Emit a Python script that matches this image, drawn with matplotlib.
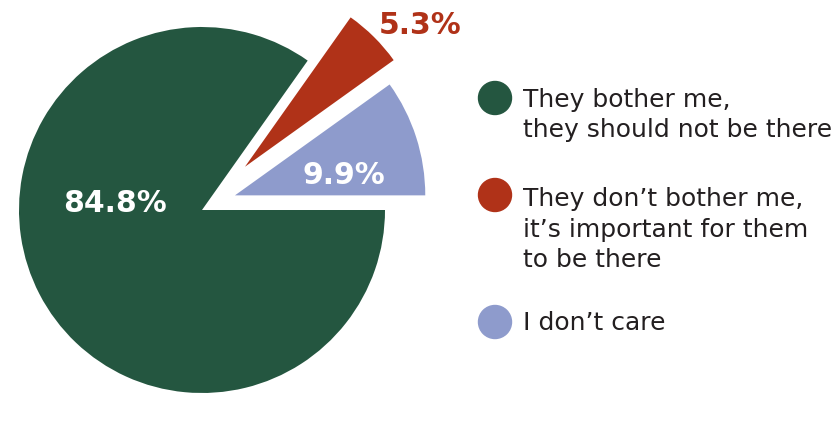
import matplotlib
matplotlib.use("Agg")
import matplotlib.pyplot as plt
from matplotlib.patches import Circle

# Survey answers, in legend order
labels = [
    ["They bother me,", "they should not be there"],
    ["They don\u2019t bother me,", "it\u2019s important for them", "to be there"],
    ["I don\u2019t care"],
]
shares = [84.8, 5.3, 9.9]
colors = ["#245640", "#B03218", "#8E9BCC"]
explode = [0.0, 0.333, 0.19]

W, H = 839, 430
fig = plt.figure(figsize=(W / 100, H / 100), dpi=100, facecolor="white")

# pie axes: left part of the figure, 1 data unit = 183 px
R_PX = 183.0
CX, CY = 202.0, 210.0
ax_w = 440
ax = fig.add_axes([0, 0, ax_w / W, 1])

wedges, _ = ax.pie(shares, colors=colors, explode=explode, startangle=0,
                   counterclock=False, radius=1.0,
                   wedgeprops=dict(linewidth=0))
# the light blue slice sits a bit further out and is drawn a touch larger
wedges[2].set_radius(1.04)
wedges[2].set_center((0.18, 0.08))

ax.set_aspect("auto")
ax.set_xlim(-CX / R_PX, (ax_w - CX) / R_PX)
ax.set_ylim(-(H - CY) / R_PX, CY / R_PX)
ax.axis("off")


def data_xy(px, py):
    return (px - CX) / R_PX, (CY - py) / R_PX


pct_font = dict(fontsize=21.5, fontweight="bold", family="DejaVu Sans")
ax.text(*data_xy(115, 212), f"{shares[0]}%", color="white", ha="center",
        va="baseline", **pct_font)
ax.text(*data_xy(344, 184), f"{shares[2]}%", color="white", ha="center",
        va="baseline", **pct_font)
ax.text(*data_xy(379, 34), f"{shares[1]}%", color=colors[1], ha="left",
        va="baseline", clip_on=False, **pct_font)


# legend: dots with multi-line labels
def fig_xy(px, py):
    return px / W, 1 - py / H


dot_y = [98, 195, 322]
first_base = [107, 206, 330]
line_gap = 30.5
for lines, col, dy, by in zip(labels, colors, dot_y, first_base):
    fig.patches.append(Circle((495, H - dy), 16.5, color=col,
                              transform=None, figure=fig))
    for i, line in enumerate(lines):
        fig.text(*fig_xy(523, by + i * line_gap), line, fontsize=18,
                 color="#231F20", ha="left", va="baseline",
                 family="DejaVu Sans")

fig.savefig("out.png", dpi=100, facecolor="white")
